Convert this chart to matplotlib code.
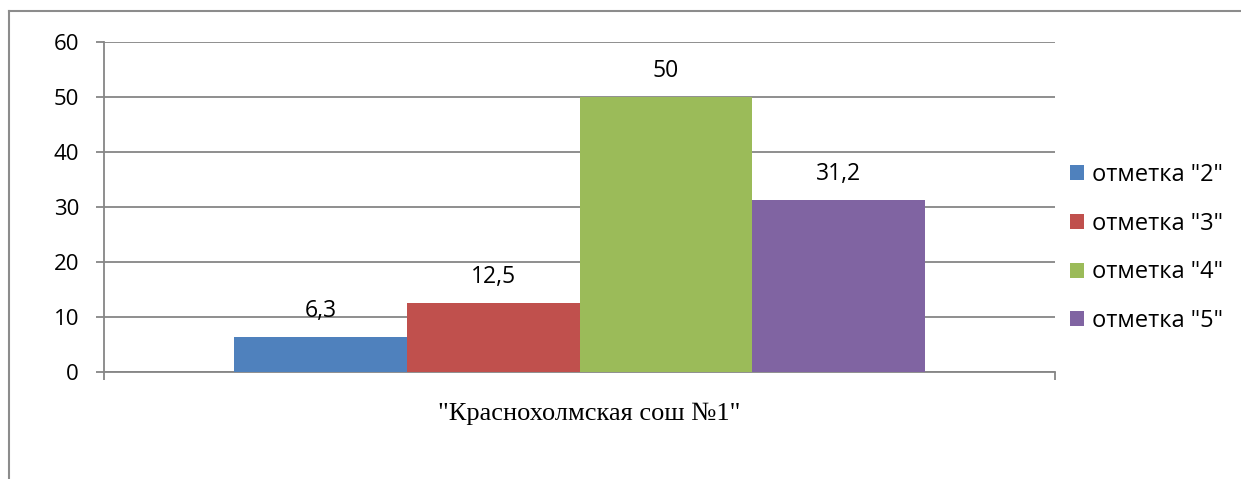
import matplotlib
matplotlib.use("Agg")
import matplotlib.pyplot as plt
from matplotlib.lines import Line2D
import numpy as np

categories = ['"Краснохолмская сош №1"']
series_names = ['отметка "2"', 'отметка "3"', 'отметка "4"', 'отметка "5"']
values = [6.3, 12.5, 50, 31.2]
value_labels = ['6,3', '12,5', '50', '31,2']
colors = ['#4f81bd', '#c0504d', '#9bbb59', '#8064a2']
yticks = [0, 10, 20, 30, 40, 50, 60]

W, H = 1241, 479
fig = plt.figure(figsize=(W / 100, H / 100), dpi=100)
ax = fig.add_axes([104 / W, 1 - 372 / H, (1055 - 104) / W, (372 - 42) / H])

grid_c = '#868686'
n = len(values)
group_w = 691 / 951
bw = group_w / n
x0 = 0
for i, (v, lab, c, name) in enumerate(zip(values, value_labels, colors, series_names)):
    xc = x0 - group_w / 2 + bw * (i + 0.5)
    ax.bar(xc, v, width=bw, color=c, label=name, zorder=3, linewidth=0)
    ax.annotate(lab, (xc, v), xytext=(0, 19), textcoords='offset points',
                ha='center', va='center', fontsize=16.5, family='Open Sans', color='black')

ax.set_xlim(-0.5, 0.5)
ax.set_ylim(0, 60)
ax.set_yticks(yticks)
ax.set_yticklabels([str(t) for t in yticks], family='Open Sans', fontsize=16)
ax.yaxis.grid(True, color=grid_c, linewidth=1.3, zorder=0)
ax.set_axisbelow(True)
for s in ['top', 'right']:
    ax.spines[s].set_visible(False)
for s in ['left', 'bottom']:
    ax.spines[s].set_color(grid_c)
    ax.spines[s].set_linewidth(1.3)
ax.tick_params(axis='y', length=6, width=1.3, color=grid_c, pad=12)

ax.set_xticks([-0.5, 0.5])
ax.set_xticklabels(['', ''])
ax.tick_params(axis='x', which='major', length=6, width=1.3, color=grid_c, direction='out')
ax.set_xticks([0.01], minor=True)
ax.set_xticklabels(categories, minor=True, family='Liberation Serif', fontsize=19)
ax.tick_params(axis='x', which='minor', length=0, pad=22)

leg = fig.legend(loc='center left', bbox_to_anchor=(1070 / W, 1 - 248 / H), frameon=False,
                 prop={'family': 'Open Sans', 'size': 17}, handlelength=0.6,
                 handleheight=0.6, handletextpad=0.35, labelspacing=1.05,
                 borderaxespad=0, borderpad=0)

frame_c = '#8c8c8c'
fig.add_artist(Line2D([8.5 / W, 8.5 / W], [0, 1 - 10.5 / H], color=frame_c, linewidth=1.5,
                      transform=fig.transFigure))
fig.add_artist(Line2D([8.5 / W, 1], [1 - 10.5 / H, 1 - 10.5 / H], color=frame_c, linewidth=1.5,
                      transform=fig.transFigure))

fig.savefig('out.png', dpi=100)
